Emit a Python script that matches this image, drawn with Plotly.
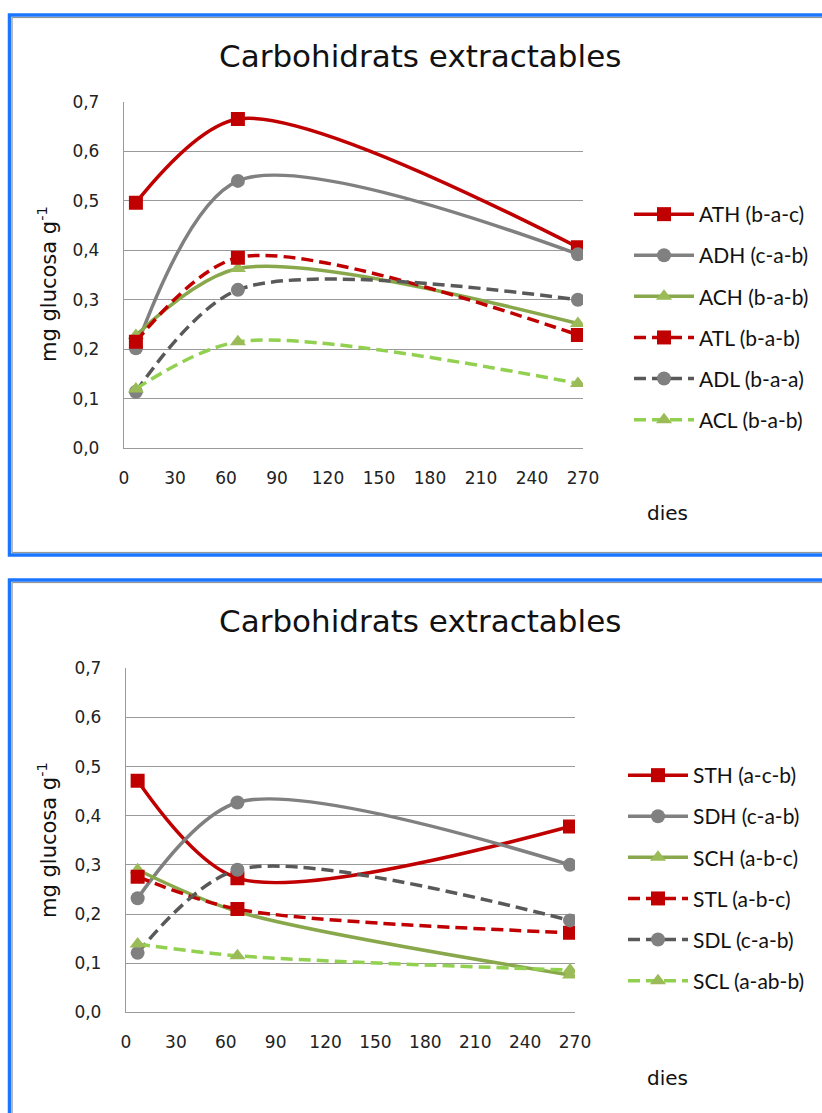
import plotly.graph_objects as go

# Sampling days and measured extractable carbohydrates (mg glucose per g)
days = [7, 67, 267]

ath = [0.496, 0.665, 0.406]
adh = [0.202, 0.540, 0.392]
ach = [0.228, 0.363, 0.252]
atl = [0.215, 0.385, 0.229]
adl = [0.114, 0.320, 0.300]
acl = [0.120, 0.215, 0.131]

sth = [0.471, 0.273, 0.378]
sdh = [0.232, 0.427, 0.300]
sch = [0.290, 0.205, 0.076]
stl = [0.276, 0.210, 0.162]
sdl = [0.121, 0.290, 0.187]
scl = [0.139, 0.115, 0.086]

top_names = ["ATH (b-a-c)", "ADH (c-a-b)", "ACH (b-a-b)",
             "ATL (b-a-b)", "ADL (b-a-a)", "ACL (b-a-b)"]
bottom_names = ["STH (a-c-b)", "SDH (c-a-b)", "SCH (a-b-c)",
                "STL (a-b-c)", "SDL (c-a-b)", "SCL (a-ab-b)"]

x_ticks = [0, 30, 60, 90, 120, 150, 180, 210, 240, 270]
y_ticks = [0.0, 0.1, 0.2, 0.3, 0.4, 0.5, 0.6, 0.7]

title_text = "Carbohidrats extractables"
y_title = "mg glucosa g<sup>-1</sup>"
x_title = "dies"

W, H = 822, 1113

# line colour, marker colour, marker symbol, dash, marker size
styles = [
    ("#C00000", "#C00000", "square", "solid", 14),
    ("#808080", "#808080", "circle", "solid", 14),
    ("#89A84C", "#9BBB59", "triangle-up", "solid", 14),
    ("#C00000", "#C00000", "square", "12px,6px", 14),
    ("#595959", "#808080", "circle", "12px,6px", 14),
    ("#92D050", "#9BBB59", "triangle-up", "12px,6px", 14),
]

fig = go.Figure()


def px_x(v):
    return v / W


def px_y(v):
    return 1 - v / H


def add_panel(series, names, xa, ya, legend_id):
    for vals, name, (lc, mc, sym, dash, ms) in zip(series, names, styles):
        fig.add_trace(go.Scatter(
            x=days, y=vals, name=name, mode="lines+markers",
            xaxis=xa, yaxis=ya, legend=legend_id, legendgroup=name,
            line=dict(color=lc, width=3.5, dash=dash, shape="spline", smoothing=0.85),
            marker=dict(color=mc, symbol=sym, size=ms, line=dict(width=0)),
        ))


add_panel([ath, adh, ach, atl, adl, acl], top_names, "x", "y", "legend")
add_panel([sth, sdh, sch, stl, sdl, scl], bottom_names, "x2", "y2", "legend2")

grid = "#9A9A9A"
tick_font = dict(family="DejaVu Sans", size=17, color="#222222")

xcommon = dict(range=[0, 270], tickvals=x_ticks, showgrid=False, zeroline=False,
               showline=True, linecolor=grid, linewidth=1.3, ticks="",
               tickfont=tick_font, ticklabelstandoff=14, fixedrange=True,
               automargin=False)
ycommon = dict(range=[0, 0.7], tickvals=y_ticks, tickformat=".1f", showgrid=True,
               gridcolor=grid, gridwidth=1.3, zeroline=False, showline=True,
               linecolor=grid, linewidth=1.3, ticks="", tickfont=tick_font,
               ticklabelstandoff=20, fixedrange=True, automargin=False)

legend_common = dict(font=dict(family="Lato", size=21, color="#111111"),
                     bgcolor="rgba(0,0,0,0)", tracegroupgap=10.8,
                     itemwidth=60, xanchor="left", yanchor="top")

fig.update_layout(
    width=W, height=H, autosize=False,
    margin=dict(l=0, r=0, t=0, b=0, pad=0, autoexpand=False),
    paper_bgcolor="white", plot_bgcolor="white",
    separators=",.",
    showlegend=True,
    xaxis=dict(domain=[px_x(124), px_x(583)], anchor="y", **xcommon),
    yaxis=dict(domain=[px_y(448.3), px_y(101.7)], anchor="x", **ycommon),
    xaxis2=dict(domain=[px_x(126), px_x(575)], anchor="y2", **xcommon),
    yaxis2=dict(domain=[px_y(1012.3), px_y(668.3)], anchor="x2", **ycommon),
    legend=dict(x=px_x(629), y=px_y(194), **legend_common),
    legend2=dict(x=px_x(623), y=px_y(755), **legend_common),
)

# Chart frames: blue outer border with a thin grey inner edge
for top, bottom, left in [(15, 555, 9.5), (580, 1125, 9.5)]:
    fig.add_shape(type="rect", xref="paper", yref="paper",
                  x0=px_x(left), x1=px_x(840), y0=px_y(bottom), y1=px_y(top),
                  line=dict(color="#1A75FF", width=3.5), fillcolor="rgba(0,0,0,0)")
    fig.add_shape(type="rect", xref="paper", yref="paper",
                  x0=px_x(left + 2.6), x1=px_x(840), y0=px_y(bottom - 2.6), y1=px_y(top + 2.6),
                  line=dict(color="#8C8C8C", width=1), fillcolor="rgba(0,0,0,0)")

text_font = dict(family="DejaVu Sans", color="#111111")
for ty, yty, dty in [(56, 284, 513), (621, 840, 1078)]:
    fig.add_annotation(text=title_text, x=px_x(420.5), y=px_y(ty), xref="paper", yref="paper",
                       showarrow=False, xanchor="center", yanchor="middle",
                       font=dict(size=31, **text_font))
    fig.add_annotation(text=y_title, x=px_x(47), y=px_y(yty), xref="paper", yref="paper",
                       showarrow=False, xanchor="center", yanchor="middle", textangle=-90,
                       font=dict(size=21, **text_font))
    fig.add_annotation(text=x_title, x=px_x(667), y=px_y(dty), xref="paper", yref="paper",
                       showarrow=False, xanchor="center", yanchor="middle",
                       font=dict(size=20, **text_font))

fig.write_html("out.html")
